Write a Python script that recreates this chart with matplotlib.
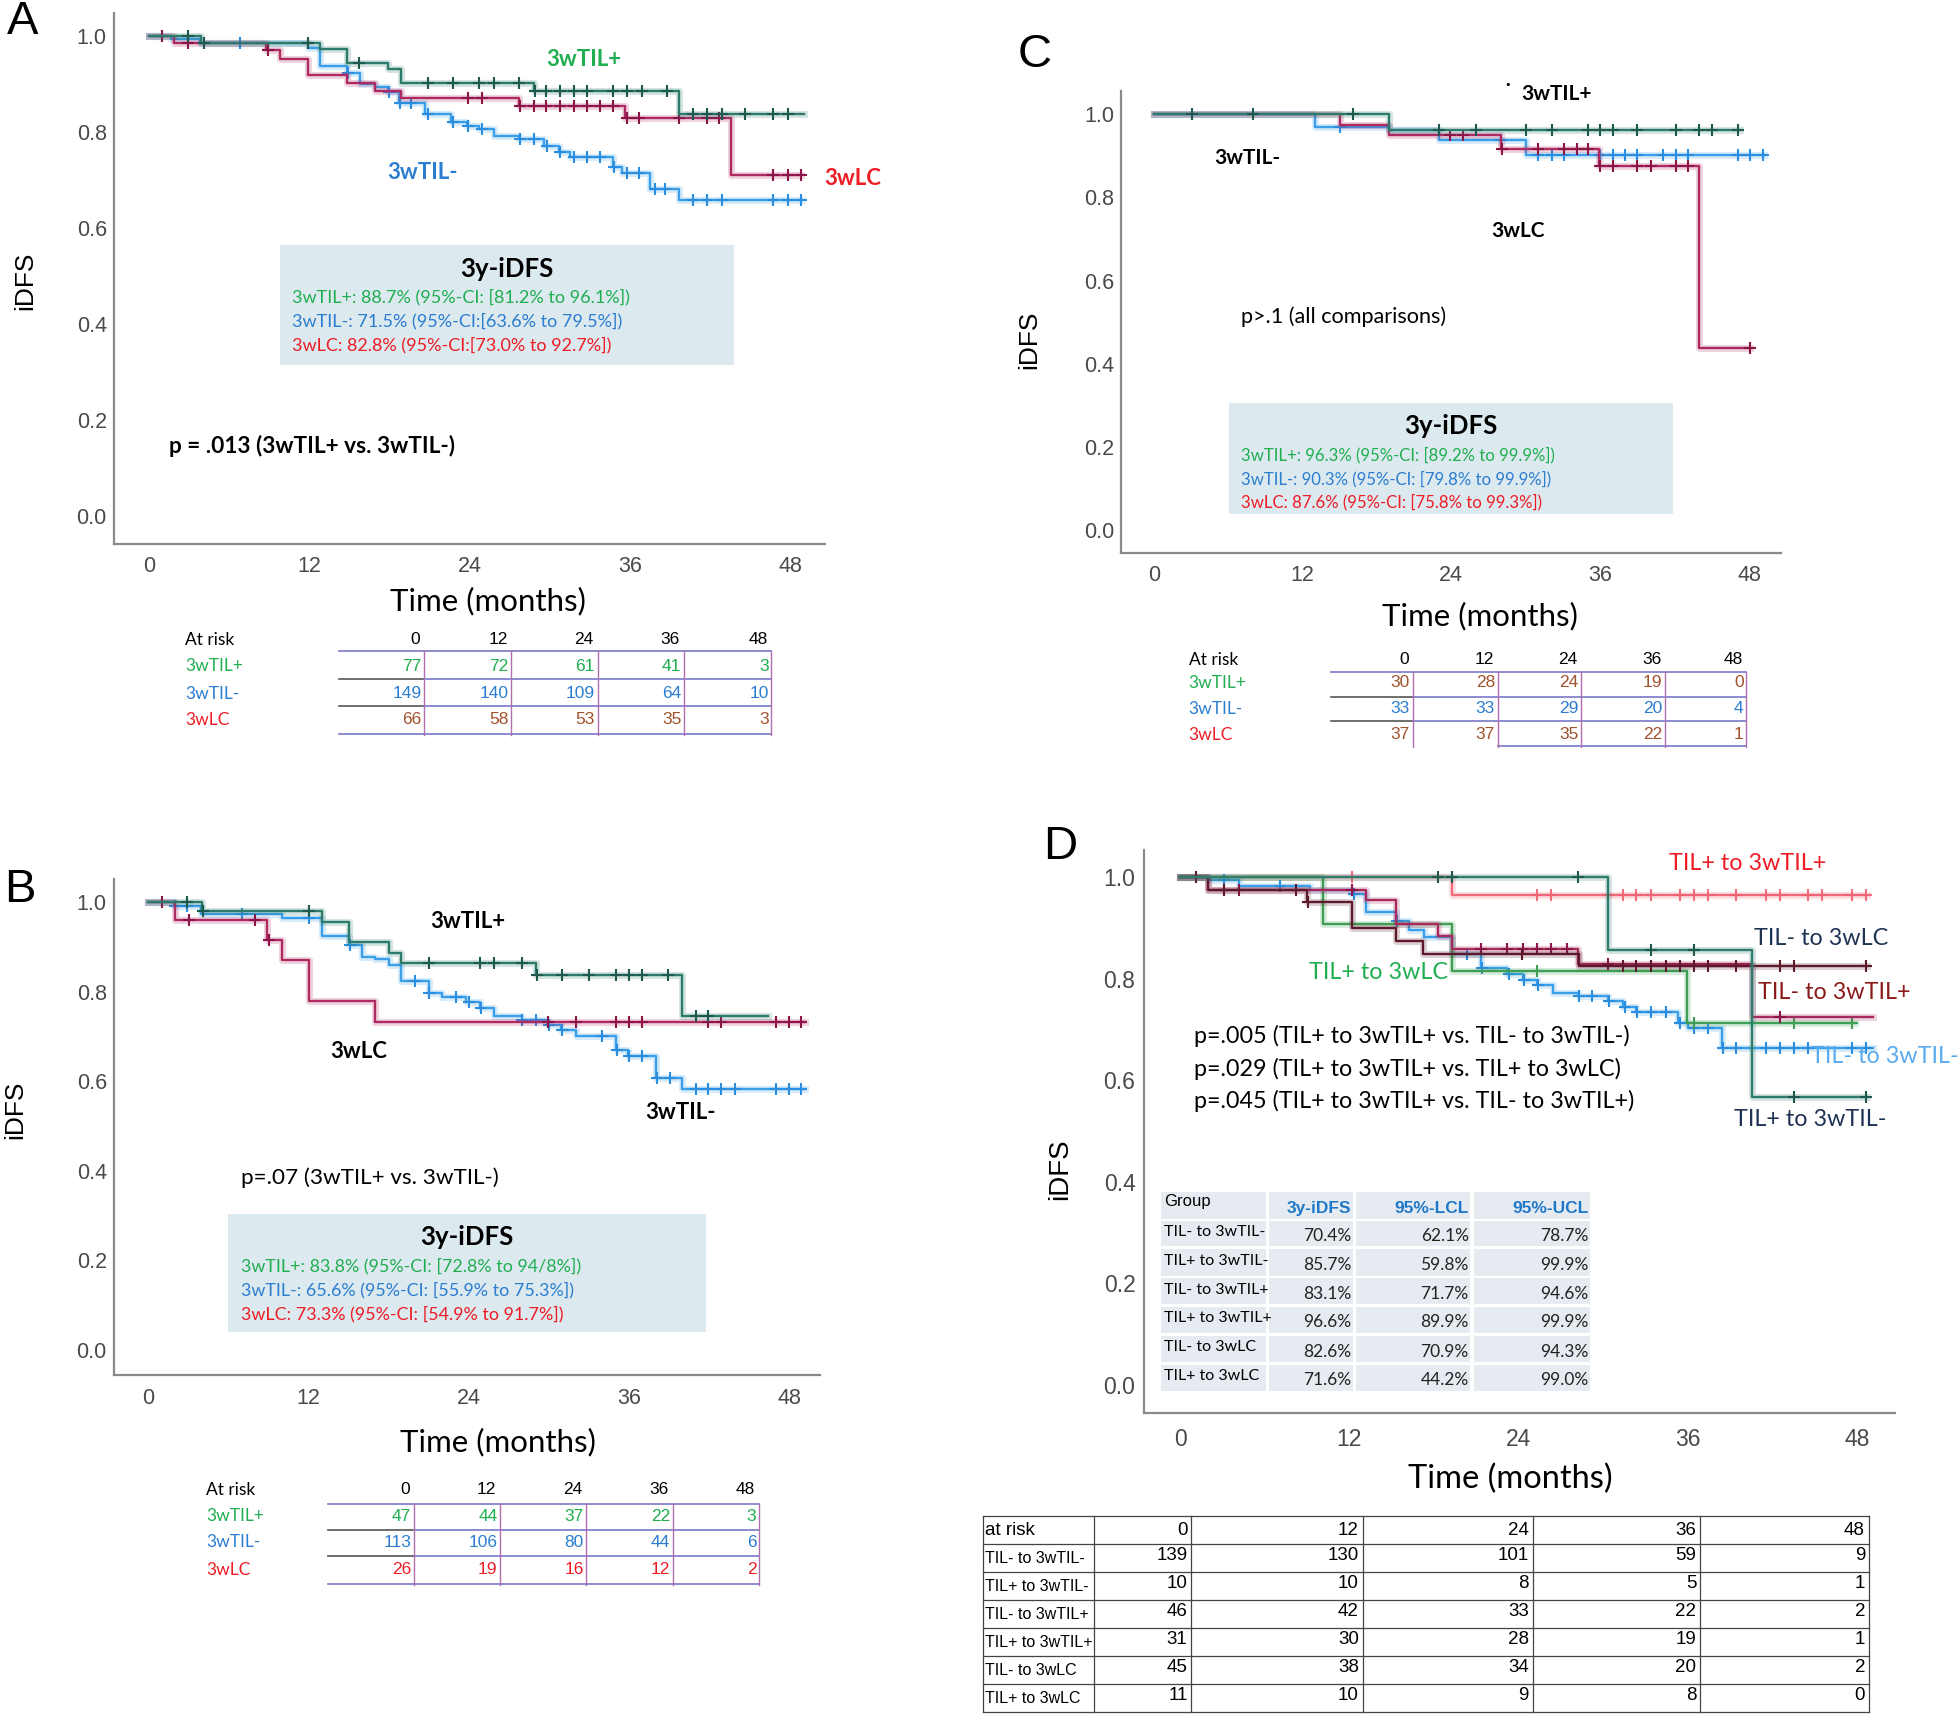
import numpy as np
import matplotlib
matplotlib.use("Agg")
import matplotlib.pyplot as plt
from matplotlib.patches import Rectangle

# ---------------- data ----------------
ticks_m = [0, 12, 24, 36, 48]
y_ticks = [0.0, 0.2, 0.4, 0.6, 0.8, 1.0]

# panel A  (event times, survival after event, end of follow-up, censor times)
A_tilp_t = [3.9, 12.8, 14.8, 17.9, 18.9, 28.8, 39.7]
A_tilp_s = [0.985, 0.973, 0.944, 0.930, 0.901, 0.885, 0.837]
A_tilp_end = 49.0
A_tilp_c = [2.9, 4.1, 11.9, 15.7, 20.9, 22.8, 24.7, 25.8, 27.7, 28.9, 29.7, 30.8,
            31.8, 32.8, 34.7, 35.8, 36.9, 38.8, 40.7, 41.8, 42.9, 44.6, 46.7, 47.8]
A_tiln_t = [1.7, 3.8, 11.9, 12.8, 14.8, 15.8, 16.9, 17.9, 18.7, 20.7, 22.6, 23.8,
            24.7, 25.8, 27.7, 29.6, 30.7, 31.5, 34.7, 35.4, 37.5, 39.7]
A_tiln_s = [0.993, 0.984, 0.974, 0.937, 0.922, 0.900, 0.893, 0.883, 0.859, 0.837, 0.821, 0.811,
            0.806, 0.791, 0.784, 0.770, 0.757, 0.748, 0.727, 0.715, 0.681, 0.659]
A_tiln_end = 48.8
A_tiln_c = [6.8, 14.9, 18.0, 18.8, 19.6, 20.9, 22.8, 23.9, 24.9, 27.8, 28.8, 29.8, 30.8,
            31.8, 32.8, 33.8, 34.8, 35.8, 36.7, 37.9, 38.6, 40.7, 41.8, 42.9, 46.7, 47.8, 48.8]
A_lc_t = [1.9, 8.8, 9.8, 11.9, 14.8, 16.9, 18.9, 27.7, 35.6, 43.6]
A_lc_s = [0.984, 0.969, 0.952, 0.919, 0.901, 0.885, 0.870, 0.853, 0.828, 0.710]
A_lc_end = 48.8
A_lc_c = [1.0, 2.9, 8.9, 23.9, 24.9, 27.8, 28.8, 29.7, 30.8, 31.8, 32.8, 33.8, 34.7,
          35.8, 36.7, 39.7, 41.8, 42.7, 46.7, 47.8, 48.8]

# panel B
B_tilp_t = [4.0, 13.0, 15.0, 18.0, 18.9, 29.0, 40.0]
B_tilp_s = [0.980, 0.956, 0.911, 0.888, 0.865, 0.839, 0.746]
B_tilp_end = 46.4
B_tilp_c = [2.9, 4.1, 12.0, 21.0, 24.8, 25.9, 28.0, 29.1, 31.0, 33.0, 35.0, 36.0, 37.0,
            38.9, 41.0, 41.9]
B_tiln_t = [1.9, 3.9, 10.0, 13.0, 15.0, 16.0, 17.0, 18.0, 18.9, 21.0, 22.0, 23.8,
            24.8, 25.9, 28.0, 29.9, 30.9, 32.0, 35.0, 35.9, 38.0, 40.0]
B_tiln_s = [0.991, 0.975, 0.965, 0.926, 0.905, 0.879, 0.873, 0.861, 0.824, 0.798, 0.789, 0.777,
            0.764, 0.746, 0.737, 0.727, 0.714, 0.701, 0.671, 0.656, 0.608, 0.583]
B_tiln_end = 49.2
B_tiln_c = [2.0, 2.9, 7.0, 12.0, 15.1, 20.0, 21.0, 23.0, 24.0, 24.9, 28.0, 29.0, 30.0,
            31.0, 34.0, 35.1, 36.0, 37.0, 38.1, 39.1, 41.0, 41.9, 42.9, 43.9, 47.0, 48.0, 48.9]
B_lc_t = [2.0, 8.9, 10.0, 12.0, 17.0]
B_lc_s = [0.961, 0.917, 0.872, 0.779, 0.733]
B_lc_end = 49.2
B_lc_c = [1.0, 3.0, 8.0, 9.0, 29.9, 32.0, 35.0, 36.0, 37.0, 41.9, 42.9, 47.0, 48.0, 48.9]

# panel C
C_tilp_t = [19.0]
C_tilp_s = [0.963]
C_tilp_end = 47.3
C_tilp_c = [3.1, 8.0, 16.1, 23.0, 26.0, 30.0, 32.1, 35.0, 36.0, 37.0, 39.0, 42.1, 44.0,
            45.0, 47.1]
C_tiln_t = [13.0, 19.0, 23.0, 30.0]
C_tiln_s = [0.969, 0.962, 0.937, 0.901]
C_tiln_end = 49.2
C_tiln_c = [15.0, 28.0, 31.0, 32.1, 33.1, 36.0, 37.0, 38.0, 39.0, 41.1, 42.1, 43.1,
            47.1, 48.1, 49.1]
C_lc_t = [15.0, 19.0, 28.0, 35.9, 44.0]
C_lc_s = [0.973, 0.949, 0.916, 0.876, 0.438]
C_lc_end = 48.1
C_lc_c = [23.9, 24.9, 28.1, 31.0, 33.1, 34.1, 35.0, 36.0, 37.0, 39.0, 40.1, 42.1, 43.1, 48.1]

# panel D
D_nn_t = [2.0, 4.2, 9.2, 12.2, 13.2, 15.3, 16.2, 17.3, 19.3, 21.3, 23.2, 24.3, 25.3,
          26.4, 28.2, 30.3, 31.4, 32.3, 35.3, 36.0, 38.4]
D_nn_s = [0.993, 0.983, 0.974, 0.967, 0.931, 0.914, 0.896, 0.881, 0.848, 0.821, 0.808, 0.798,
          0.788, 0.772, 0.765, 0.755, 0.745, 0.735, 0.712, 0.702, 0.663]
D_nn_end = 49.1
D_nn_c = [3.1, 7.1, 12.3, 15.4, 20.3, 21.4, 23.3, 24.4, 25.4, 28.3, 29.2, 30.4, 31.5,
          32.4, 33.4, 34.4, 35.4, 36.4, 37.4, 38.5, 39.4, 41.5, 42.5, 43.5, 44.5, 47.6, 48.6]
D_pn_t = [30.3, 40.5]
D_pn_s = [0.856, 0.567]
D_pn_end = 48.7
D_pn_c = [18.3, 19.3, 28.2, 33.4, 36.4, 43.5, 48.6]
D_np_t = [2.0, 13.2, 15.3, 18.3, 19.3, 28.2, 40.5]
D_np_s = [0.975, 0.954, 0.907, 0.884, 0.858, 0.829, 0.724]
D_np_end = 49.1
D_np_c = [3.1, 4.2, 12.2, 21.3, 23.2, 24.3, 25.3, 26.3, 27.4, 30.3, 42.5]
D_pp_t = [19.3]
D_pp_s = [0.965]
D_pp_end = 48.7
D_pp_c = [12.2, 25.3, 26.3, 30.3, 31.4, 32.3, 33.4, 35.4, 36.4, 37.4, 39.4, 41.5, 42.5,
          44.5, 45.5, 47.6, 48.6]
D_nl_t = [2.0, 9.0, 12.2, 15.3, 17.2, 28.3]
D_nl_s = [0.975, 0.950, 0.900, 0.874, 0.849, 0.825]
D_nl_end = 48.7
D_nl_c = [1.1, 3.1, 8.2, 9.1, 24.2, 31.4, 32.3, 33.4, 34.4, 35.4, 36.4, 37.4, 39.4,
          42.5, 43.5, 48.6]
D_pl_t = [10.1, 19.3, 35.9]
D_pl_s = [0.907, 0.815, 0.712]
D_pl_end = 47.8
D_pl_c = [25.3, 36.4, 43.5, 47.6]

# tables
risk_labels = ["3wTIL+", "3wTIL-", "3wLC"]
A_risk = [[77, 72, 61, 41, 3], [149, 140, 109, 64, 10], [66, 58, 53, 35, 3]]
B_risk = [[47, 44, 37, 22, 3], [113, 106, 80, 44, 6], [26, 19, 16, 12, 2]]
C_risk = [[30, 28, 24, 19, 0], [33, 33, 29, 20, 4], [37, 37, 35, 22, 1]]

A_box = ["3wTIL+: 88.7% (95%-CI: [81.2% to 96.1%])",
         "3wTIL-: 71.5% (95%-CI:[63.6% to 79.5%])",
         "3wLC: 82.8% (95%-CI:[73.0% to 92.7%])"]
B_box = ["3wTIL+: 83.8% (95%-CI: [72.8% to 94/8%])",
         "3wTIL-: 65.6% (95%-CI: [55.9% to 75.3%])",
         "3wLC: 73.3% (95%-CI: [54.9% to 91.7%])"]
C_box = ["3wTIL+: 96.3% (95%-CI: [89.2% to 99.9%])",
         "3wTIL-: 90.3% (95%-CI: [79.8% to 99.9%])",
         "3wLC: 87.6% (95%-CI: [75.8% to 99.3%])"]

D_groups = ["TIL- to 3wTIL-", "TIL+ to 3wTIL-", "TIL- to 3wTIL+",
            "TIL+ to 3wTIL+", "TIL- to 3wLC", "TIL+ to 3wLC"]
D_idfs = [70.4, 85.7, 83.1, 96.6, 82.6, 71.6]
D_lcl = [62.1, 59.8, 71.7, 89.9, 70.9, 44.2]
D_ucl = [78.7, 99.9, 94.6, 99.9, 94.3, 99.0]
D_risk = [[139, 130, 101, 59, 9], [10, 10, 8, 5, 1], [46, 42, 33, 22, 2],
          [31, 30, 28, 19, 1], [45, 38, 34, 20, 2], [11, 10, 9, 8, 0]]
D_pvals = ["p=.005 (TIL+ to 3wTIL+ vs. TIL- to 3wTIL-)",
           "p=.029 (TIL+ to 3wTIL+ vs. TIL+ to 3wLC)",
           "p=.045 (TIL+ to 3wTIL+ vs. TIL- to 3wTIL+)"]

# ---------------- style ----------------
ARIAL = ["Liberation Sans", "DejaVu Sans"]
NARROW = ["Liberation Sans Narrow", "Liberation Sans", "DejaVu Sans"]
CAL = ["Lato", "DejaVu Sans"]
plt.rcParams["font.family"] = ARIAL

teal, blue, crim = "#2b7a6a", "#3a9fe8", "#b02a62"
g_txt, b_txt, r_txt, brown = "#1fae50", "#2b7dd0", "#ee1c24", "#a0522d"
navy = "#1f3354"

W, H, S = 1960, 1718, 1.25
fig = plt.figure(figsize=(W / 100, H / 100), dpi=100)


def panel(x0, y0, x1, y1, xlim, ylim, tsize=15.5, xpad=9, ypad=5):
    ax = fig.add_axes([x0 * S / W, 1 - y1 * S / H, (x1 - x0) * S / W, (y1 - y0) * S / H])
    ax.set_xlim(*xlim)
    ax.set_ylim(*ylim)
    for sp in ["top", "right"]:
        ax.spines[sp].set_visible(False)
    for sp in ["left", "bottom"]:
        ax.spines[sp].set_color("#8a8a8a")
        ax.spines[sp].set_linewidth(1.6)
    ax.set_xticks(ticks_m)
    ax.set_yticks(y_ticks)
    ax.set_yticklabels(["%.1f" % v for v in y_ticks])
    ax.tick_params(axis="x", length=0, pad=xpad, labelsize=tsize, labelcolor="#4a4a4a")
    ax.tick_params(axis="y", length=0, pad=ypad, labelsize=tsize, labelcolor="#4a4a4a")
    return ax


def km(ax, t, s, end, cens, color, mcolor=None, lw=1.7, alpha=1.0):
    tt = np.concatenate([[0.0], t, [end]])
    ss = np.concatenate([[1.0], s, [s[-1]]])
    ax.step(tt, ss, where="post", color=color, lw=lw * 3, alpha=0.2)
    ax.step(tt, ss, where="post", color=color, lw=lw, alpha=alpha)
    idx = np.searchsorted(tt, cens, side="right") - 1
    ax.plot(cens, ss[idx], ls="none", marker="+", ms=9, mew=1.5,
            color=mcolor or color, alpha=alpha)


axA = panel(91, 10, 660, 435, (-2.62, 50.6), (-0.057, 1.048))
km(axA, A_tiln_t, A_tiln_s, A_tiln_end, A_tiln_c, blue, "#2a8ee0")
km(axA, A_lc_t, A_lc_s, A_lc_end, A_lc_c, crim, "#8c1448")
km(axA, A_tilp_t, A_tilp_s, A_tilp_end, A_tilp_c, teal, "#1d5a4d")

axB = panel(91, 703, 656, 1100, (-2.6, 50.3), (-0.056, 1.053))
km(axB, B_tiln_t, B_tiln_s, B_tiln_end, B_tiln_c, blue, "#2a8ee0")
km(axB, B_lc_t, B_lc_s, B_lc_end, B_lc_c, crim, "#8c1448")
km(axB, B_tilp_t, B_tilp_s, B_tilp_end, B_tilp_c, teal, "#1d5a4d")

axC = panel(897, 73, 1425, 442, (-2.62, 50.6), (-0.053, 1.055))
km(axC, C_tiln_t, C_tiln_s, C_tiln_end, C_tiln_c, blue, "#2a8ee0")
km(axC, C_lc_t, C_lc_s, C_lc_end, C_lc_c, crim, "#8c1448")
km(axC, C_tilp_t, C_tilp_s, C_tilp_end, C_tilp_c, teal, "#1d5a4d")

axD = panel(915, 680, 1516, 1130, (-2.57, 50.66), (-0.054, 1.053), tsize=16.5, xpad=11, ypad=6)
km(axD, D_pp_t, D_pp_s, D_pp_end, D_pp_c, "#f06070", alpha=0.9)
km(axD, D_nn_t, D_nn_s, D_nn_end, D_nn_c, blue, "#2a8ee0")
km(axD, D_pl_t, D_pl_s, D_pl_end, D_pl_c, "#3f9e55")
km(axD, D_np_t, D_np_s, D_np_end, D_np_c, "#a82a5c", "#8c1448")
km(axD, D_nl_t, D_nl_s, D_nl_end, D_nl_c, "#5e1a2c")
km(axD, D_pn_t, D_pn_s, D_pn_end, D_pn_c, "#2e7c6c", "#1d5a4d")

# overlay in shown-pixel coordinates for annotations and tables
ov = fig.add_axes([0, 0, 1, 1], zorder=5)
ov.set_xlim(0, W / S)
ov.set_ylim(H / S, 0)
ov.axis("off")


def txt(x, y, s, size, color="black", ha="center", va="center", bold=False, fam=CAL, **kw):
    ov.text(x, y, s, fontsize=size, color=color, ha=ha, va=va,
            fontweight="bold" if bold else "normal", family=fam, **kw)


# panel letters and axis titles
for lab, x, y in [("A", 18, 18), ("B", 16, 712), ("C", 828, 44), ("D", 848, 678)]:
    txt(x, y, lab, 34, fam=ARIAL)
for x, y, sz in [(20, 225, 19), (12, 888, 19), (823, 272, 19), (848, 935, 20)]:
    txt(x, y, "iDFS", sz, rotation=90, fam=ARIAL)
for x, y, sz in [(390, 481, 22.5), (398, 1154, 22.5), (1184, 493, 22.5), (1208, 1183, 23.5)]:
    txt(x, y, "Time (months)", sz)

# curve labels
txt(467, 48, "3wTIL+", 16, g_txt, bold=True)
txt(338, 138, "3wTIL-", 16, b_txt, bold=True)
txt(682, 143, "3wLC", 16, r_txt, bold=True)
txt(374, 737, "3wTIL+", 16, bold=True)
txt(287, 841, "3wLC", 16, bold=True)
txt(544, 890, "3wTIL-", 16, bold=True)
txt(1245, 75, "3wTIL+", 15, bold=True)
txt(1206, 68, "·", 12, bold=True)
txt(998, 126, "3wTIL-", 15, bold=True)
txt(1214, 185, "3wLC", 15, bold=True)

# p-values
txt(135, 357, "p = .013 (3wTIL+ vs. 3wTIL-)", 16.3, ha="left", bold=True)
txt(193, 942, "p=.07 (3wTIL+ vs. 3wTIL-)", 16.2, ha="left")
txt(993, 253, "p>.1 (all comparisons)", 15.6, ha="left")
for i, s in enumerate(D_pvals):
    txt(955, 829 + 26 * i, s, 16.8, ha="left")


# 3y-iDFS boxes
def box(x0, y0, x1, y1, lines, lx, tsize=12.9):
    ov.add_patch(Rectangle((x0, y0), x1 - x0, y1 - y0, color="#dce9ef", lw=0))
    txt((x0 + x1) / 2, y0 + 19, "3y-iDFS", 18.5, bold=True)
    for i, (s, c) in enumerate(zip(lines, [g_txt, b_txt, r_txt])):
        txt(lx, y0 + 42 + 19 * i, s, tsize, c, ha="left")


box(224, 196, 587, 292, A_box, 234, tsize=13.0)
box(182, 971, 565, 1066, B_box, 193, tsize=12.9)
box(983, 322, 1338, 411, C_box, 993, tsize=12.1)


# at-risk tables (A, B, C)
def risk_table(hy, rys, lx, edges, left, lys, data, vcols, bottom_left=None):
    txt(lx, hy, "At risk", 12.5, ha="left")
    for j, m in enumerate(ticks_m):
        txt(edges[j] - 3, hy, str(m), 12.5, ha="right", fam=ARIAL)
    for i, row in enumerate(data):
        txt(lx, rys[i], risk_labels[i], 12.5, [g_txt, b_txt, r_txt][i], ha="left")
        for j, v in enumerate(row):
            txt(edges[j] - 2, rys[i], str(v), 12.5, vcols[i], ha="right", fam=ARIAL)
    purple, gray, pink = "#7878c8", "#555555", "#b070b0"
    ov.plot([left, edges[-1]], [lys[0]] * 2, color=purple, lw=1.2)
    for y in lys[1:-1]:
        ov.plot([left, edges[0]], [y] * 2, color=gray, lw=1.2)
        ov.plot([edges[0], edges[-1]], [y] * 2, color=purple, lw=1.2)
    bl = left if bottom_left is None else bottom_left
    ov.plot([bl, edges[-1]], [lys[-1]] * 2, color=purple, lw=1.2)
    for x in edges:
        ov.plot([x, x], [lys[0], lys[-1] + 1], color=pink, lw=1.0)


risk_table(512, [533, 555, 576], 148, [339, 409, 478, 547, 617], 271,
           [521, 543, 565, 587], A_risk, [g_txt, b_txt, brown])
risk_table(1192, [1213, 1234, 1256], 165, [331, 400, 469, 538, 607], 262,
           [1203, 1224, 1245, 1267], B_risk, [g_txt, b_txt, r_txt])
risk_table(528, [546, 567, 588], 951, [1130, 1198, 1265, 1332, 1397], 1065,
           [538, 558, 577, 597], C_risk, [brown, b_txt, brown], bottom_left=1198)

# D curve labels
txt(1398, 691, "TIL+ to 3wTIL+", 16.8, r_txt)
txt(1457, 751, "TIL- to 3wLC", 16.8, navy)
txt(1467, 794, "TIL- to 3wTIL+", 16.8, "#8b1a1a")
txt(1103, 778, "TIL+ to 3wLC", 16.8, g_txt)
txt(1508, 845, "TIL- to 3wTIL-", 16.8, "#5aaaf0")
txt(1448, 896, "TIL+ to 3wTIL-", 16.8, navy)

# D summary table
cols = [(929, 1013), (1015, 1082), (1085, 1176), (1179, 1272)]
rows = [(954, 975), (976.5, 997), (999.5, 1020.5), (1022.7, 1043.2),
        (1045.3, 1066.7), (1068.5, 1090), (1092, 1112.5)]
for (y0, y1) in rows:
    for (x0, x1) in cols:
        ov.add_patch(Rectangle((x0, y0), x1 - x0, y1 - y0, color="#e6ebf2", lw=0))
txt(931, 961, "Group", 12, ha="left", fam=ARIAL)
for (x0, x1), h in zip(cols[1:], ["3y-iDFS", "95%-LCL", "95%-UCL"]):
    txt(x1 - 1, 967, h, 12.5, "#1f78c8", ha="right", bold=True, fam=ARIAL)
for i, g in enumerate(D_groups):
    y0, y1 = rows[i + 1]
    txt(931, y0 + 9, g, 11.5, ha="left")
    for (x0, x1), v in zip(cols[1:], [D_idfs[i], D_lcl[i], D_ucl[i]]):
        txt(x1 - 1, (y0 + y1) / 2 + 2, "%.1f%%" % v, 12.5, "#222222", ha="right")

# D at-risk table
dcols = [786, 875, 953, 1090, 1226, 1360, 1495]
drows = [1213 + 22.4 * k for k in range(8)]
for y in drows:
    ov.plot([dcols[0], dcols[-1]], [y, y], color="#444444", lw=0.9)
for x in dcols:
    ov.plot([x, x], [drows[0], drows[-1]], color="#444444", lw=0.9)
txt(788, (drows[0] + drows[1]) / 2, "at risk", 13.5, ha="left", fam=NARROW)
for j, m in enumerate(ticks_m):
    txt(dcols[j + 2] - 3, (drows[0] + drows[1]) / 2, str(m), 13.5, ha="right", fam=NARROW)
for i, g in enumerate(D_groups):
    yc = (drows[i + 1] + drows[i + 2]) / 2
    txt(788, yc, g, 11.5, ha="left", fam=NARROW)
    for j, v in enumerate(D_risk[i]):
        txt(dcols[j + 2] - 3, yc - 2, str(v), 13.5, ha="right", fam=NARROW)

fig.savefig("out.png", dpi=100)
